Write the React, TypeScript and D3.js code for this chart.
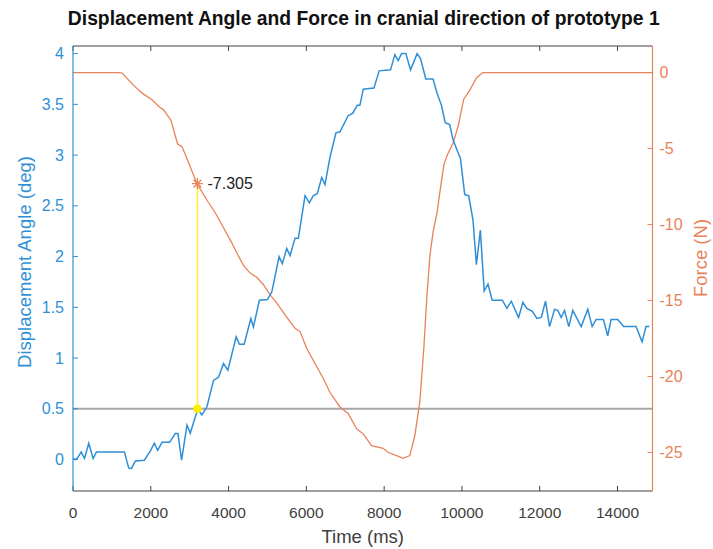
import React from "react";
import * as d3 from "d3";

// ---------- data ----------
const angleTime = [5, 64, 123, 210, 295, 405, 518, 603, 1321, 1432, 1501, 1604, 1835, 1989, 2091, 2176, 2289, 2484, 2630, 2699, 2792, 2930, 3015, 3143, 3213, 3315, 3444, 3613, 3741, 3870, 3982, 4195, 4280, 4401, 4573, 4639, 4793, 4998, 5111, 5299, 5383, 5496, 5581, 5709, 5794, 5966, 6076, 6179, 6282, 6395, 6479, 6608, 6761, 6864, 7077, 7190, 7308, 7377, 7462, 7737, 7872, 8165, 8275, 8360, 8447, 8558, 8678, 8848, 8935, 9071, 9258, 9361, 9474, 9571, 9687, 9771, 9874, 9961, 10072, 10174, 10285, 10372, 10474, 10572, 10670, 10777, 11039, 11157, 11270, 11457, 11568, 11670, 11809, 11927, 12040, 12150, 12253, 12381, 12466, 12553, 12638, 12748, 12851, 13066, 13236, 13348, 13451, 13638, 13748, 13836, 14005, 14159, 14477, 14631, 14734, 14819];
const angleDeg = [0.01, 0.0, 0.02, 0.075, 0.01, 0.16, 0.01, 0.075, 0.075, -0.083, -0.09, -0.014, -0.007, 0.085, 0.16, 0.09, 0.17, 0.17, 0.256, 0.256, -0.007, 0.34, 0.26, 0.42, 0.49, 0.44, 0.52, 0.78, 0.81, 0.946, 0.88, 1.21, 1.136, 1.136, 1.39, 1.306, 1.57, 1.576, 1.65, 2.0, 1.93, 2.08, 2.01, 2.18, 2.18, 2.6, 2.53, 2.6, 2.62, 2.78, 2.71, 2.98, 3.22, 3.23, 3.39, 3.41, 3.49, 3.49, 3.65, 3.66, 3.83, 3.84, 3.99, 3.93, 4.0, 4.0, 3.84, 4.0, 3.95, 3.75, 3.75, 3.61, 3.49, 3.32, 3.3, 3.15, 3.05, 2.97, 2.61, 2.6, 2.36, 1.92, 2.26, 1.66, 1.73, 1.57, 1.57, 1.49, 1.56, 1.4, 1.55, 1.49, 1.46, 1.39, 1.4, 1.56, 1.31, 1.48, 1.47, 1.4, 1.47, 1.31, 1.47, 1.31, 1.48, 1.31, 1.38, 1.38, 1.22, 1.38, 1.38, 1.31, 1.31, 1.16, 1.31, 1.31];

const forceTime = [0, 1175, 1262, 1560, 1776, 2032, 2227, 2330, 2520, 2689, 2802, 2971, 3187, 3459, 3657, 3870, 4085, 4213, 4383, 4555, 4727, 4896, 5068, 5240, 5453, 5581, 5709, 5838, 6010, 6436, 6608, 6864, 7077, 7293, 7462, 7677, 7975, 8103, 8319, 8488, 8660, 8789, 8917, 9020, 9097, 9174, 9258, 9361, 9474, 9540, 9635, 9771, 9900, 10046, 10200, 10372, 10533, 14880];
const forceN = [0, 0, -0.03, -0.84, -1.35, -1.79, -2.28, -2.45, -3.15, -4.7, -4.87, -5.91, -7.305, -8.45, -9.22, -10.21, -11.2, -11.87, -12.68, -13.19, -13.47, -13.96, -14.62, -15.17, -15.94, -16.38, -16.83, -17.04, -18.15, -20.13, -21.05, -22.0, -22.45, -23.44, -23.77, -24.54, -24.72, -24.98, -25.2, -25.38, -25.2, -23.88, -21.67, -18.15, -14.8, -12.1, -10.5, -9.2, -7.12, -6.02, -5.36, -4.65, -3.55, -1.75, -1.17, -0.35, 0, 0];

const xTicks = [0, 2000, 4000, 6000, 8000, 10000, 12000, 14000];
const leftTicks = [0, 0.5, 1, 1.5, 2, 2.5, 3, 3.5, 4];
const rightTicks = [-25, -20, -15, -10, -5, 0];

const thresholdDeg = 0.5;
const tipTime = 3200;
const tipForce = -7.305;

const titleText = "Displacement Angle and Force in cranial direction of prototype 1";
const xLabel = "Time (ms)";
const leftLabel = "Displacement Angle (deg)";
const rightLabel = "Force (N)";

// ---------- layout ----------
const W = 713, H = 549;
const L = 73, R = 652.5, T = 46, B = 491;
const BLUE = "#2f8fd6";
const ORANGE = "#e8825a";
const DARK = "#404040";
const FONT = "'Liberation Sans', Arial, Helvetica, sans-serif";

export default function App() {
  const x = d3.scaleLinear().domain([0, 14900]).range([L, R]);
  const yL = d3.scaleLinear().domain([-0.31, 4.075]).range([B, T]);
  const yR = d3.scaleLinear().domain([-27.53, 1.75]).range([B, T]);

  const angleLine = d3
    .line<number>()
    .x((_, i) => x(angleTime[i]))
    .y((d) => yL(d));
  const forceLine = d3
    .line<number>()
    .x((_, i) => x(forceTime[i]))
    .y((d) => yR(d));

  const tx = x(tipTime);
  const tyTop = yR(tipForce);
  const tyBot = yL(thresholdDeg);
  const tick = 5;

  const star = (cx: number, cy: number, r: number) => {
    const parts: string[] = [];
    for (let k = 0; k < 4; k++) {
      const a = (Math.PI / 4) * k;
      parts.push(`M${cx - r * Math.cos(a)},${cy - r * Math.sin(a)}L${cx + r * Math.cos(a)},${cy + r * Math.sin(a)}`);
    }
    return parts.join("");
  };

  return (
    <svg width={W} height={H} style={{ position: "absolute", left: 0, top: 0, background: "#fff" }} fontFamily={FONT}>
      <rect x={0} y={0} width={W} height={H} fill="#fff" />
      {/* title */}
      <text x={(L + R) / 2 + 1} y={25} textAnchor="middle" fontSize={19.3} fontWeight="bold" fill="#111">
        {titleText}
      </text>

      {/* threshold line */}
      <line x1={L} x2={R} y1={yL(thresholdDeg)} y2={yL(thresholdDeg)} stroke="#a6a6a6" strokeWidth={2} />

      {/* series */}
      <path d={forceLine(forceN) || ""} fill="none" stroke={ORANGE} strokeWidth={1.3} />
      <path d={angleLine(angleDeg) || ""} fill="none" stroke={BLUE} strokeWidth={1.5} />

      {/* datatip */}
      <line x1={tx} x2={tx} y1={tyTop} y2={tyBot} stroke="#ffee33" strokeWidth={1.6} />
      <circle cx={tx} cy={tyBot} r={4.2} fill="#ffee00" />
      <path d={star(tx, tyTop, 5.5)} stroke={ORANGE} strokeWidth={1.3} fill="none" />
      <text x={tx + 10} y={tyTop} dominantBaseline="central" fontSize={16} fill="#222">
        {tipForce.toFixed(3)}
      </text>

      {/* box top */}
      <line x1={L} x2={R} y1={T} y2={T} stroke={DARK} strokeWidth={1} />
      {xTicks.map((t) => (
        <line key={"tt" + t} x1={x(t)} x2={x(t)} y1={T} y2={T + tick} stroke={DARK} />
      ))}
      {/* bottom axis */}
      <line x1={L} x2={R} y1={B} y2={B} stroke={DARK} strokeWidth={1} />
      {xTicks.map((t) => (
        <g key={"bt" + t}>
          <line x1={x(t)} x2={x(t)} y1={B} y2={B - tick} stroke={DARK} />
          <text x={x(t)} y={B + 21} textAnchor="middle" dominantBaseline="central" fontSize={15.5} fill={DARK}>
            {t}
          </text>
        </g>
      ))}
      <text x={(L + R) / 2} y={536} textAnchor="middle" dominantBaseline="central" fontSize={18.5} fill={DARK}>
        {xLabel}
      </text>

      {/* left axis */}
      <line x1={L} x2={L} y1={T} y2={B} stroke={BLUE} strokeWidth={1.2} />
      {leftTicks.map((t) => (
        <g key={"lt" + t}>
          <line x1={L} x2={L + tick} y1={yL(t)} y2={yL(t)} stroke={BLUE} />
          <text x={L - 9} y={yL(t)} textAnchor="end" dominantBaseline="central" fontSize={16} fill={BLUE}>
            {t}
          </text>
        </g>
      ))}
      <text
        transform={`translate(24,262) rotate(-90)`}
        textAnchor="middle"
        dominantBaseline="central"
        fontSize={18.5}
        fill={BLUE}
      >
        {leftLabel}
      </text>

      {/* right axis */}
      <line x1={R} x2={R} y1={T} y2={B} stroke={ORANGE} strokeWidth={1.2} />
      {rightTicks.map((t) => (
        <g key={"rt" + t}>
          <line x1={R} x2={R - tick} y1={yR(t)} y2={yR(t)} stroke={ORANGE} />
          <text x={R + 7} y={yR(t)} textAnchor="start" dominantBaseline="central" fontSize={16} fill={ORANGE}>
            {t}
          </text>
        </g>
      ))}
      <text
        transform={`translate(700,258) rotate(-90)`}
        textAnchor="middle"
        dominantBaseline="central"
        fontSize={18.5}
        fill={ORANGE}
      >
        {rightLabel}
      </text>
    </svg>
  );
}
